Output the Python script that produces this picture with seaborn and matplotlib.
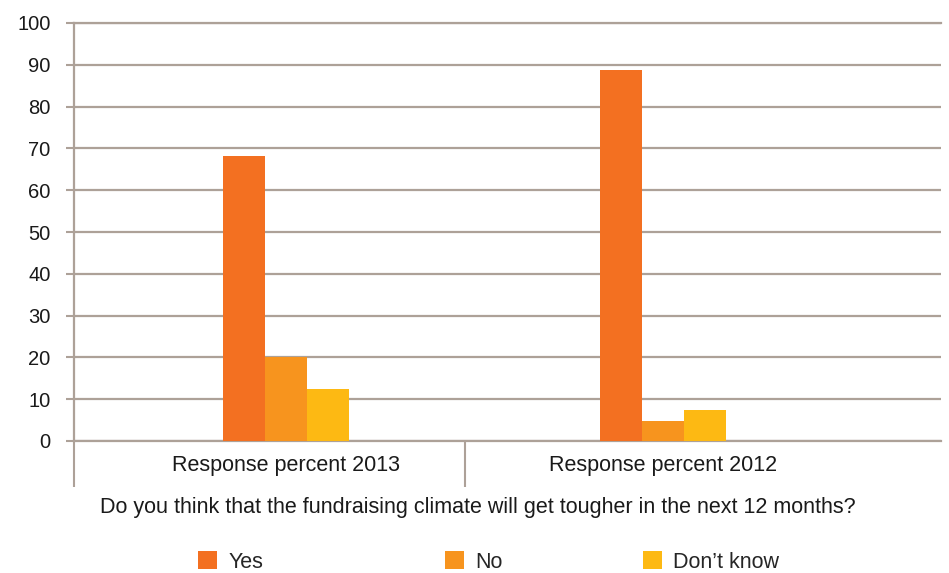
import matplotlib
matplotlib.use("Agg")
import matplotlib.pyplot as plt
import seaborn as sns
import pandas as pd

categories = ["Response percent 2013", "Response percent 2012"]
answers = ["Yes", "No", "Don\u2019t know"]
yes_vals = [68.2, 88.8]
no_vals = [20.1, 4.8]
dontknow_vals = [12.4, 7.4]
colors = ["#F37021", "#F7941E", "#FDB913"]
yticks = [0, 10, 20, 30, 40, 50, 60, 70, 80, 90, 100]
question = "Do you think that the fundraising climate will get tougher in the next 12 months?"

rows = []
for i, c in enumerate(categories):
    for a, vals in zip(answers, [yes_vals, no_vals, dontknow_vals]):
        rows.append({"category": c, "answer": a, "value": vals[i]})
df = pd.DataFrame(rows)

sns.set_theme(style="white")
plt.rcParams["font.family"] = ["Liberation Sans", "DejaVu Sans"]

grid_c = "#ADA198"
fs_y = 14.5
fs = 15.5

fig = plt.figure(figsize=(9.49, 5.73), dpi=100)
ax = fig.add_axes([74 / 949, 1 - 441 / 573, (941 - 74) / 949, (441 - 23) / 573])

sns.barplot(data=df, x="category", y="value", hue="answer", order=categories,
            hue_order=answers, palette=colors, width=0.333, saturation=1,
            linewidth=0, ax=ax, legend=True, zorder=3)

handles, labels = ax.get_legend_handles_labels()
ax.get_legend().remove()

ax.set_xlim(-0.562, 1.737)
ax.set_ylim(0, 100)
ax.set_yticks(yticks)
ax.set_yticklabels([str(v) for v in yticks], fontsize=fs_y, color="#1a1a1a")
ax.yaxis.grid(True, color=grid_c, linewidth=1.6, zorder=0)
ax.set_axisbelow(True)
ax.tick_params(axis="y", which="major", direction="out", length=5.8, width=1.5,
               color=grid_c, pad=11, left=True)

ax.set_xticks([0, 1])
ax.set_xticklabels(categories, fontsize=fs, color="#1a1a1a")
ax.tick_params(axis="x", which="major", length=0, pad=10)
ax.set_xticks([-0.562, 0.475], minor=True)
ax.tick_params(axis="x", which="minor", direction="out", length=33, width=1.5,
               color=grid_c, bottom=True)

ax.spines["right"].set_visible(False)
for s in ["left", "bottom", "top"]:
    ax.spines[s].set_color(grid_c)
    ax.spines[s].set_linewidth(1.6)

ax.set_xlabel("")
ax.set_ylabel("")

fig.text(0.504, 1 - 508 / 573, question, ha="center", va="center",
         fontsize=fs, color="#1a1a1a")

lx = [198 / 949, 445 / 949, 643 / 949]
for h, l, x in zip(handles, labels, lx):
    h.set_linewidth(0)
    fig.legend([h], [l], loc="center left", bbox_to_anchor=(x, 1 - 562 / 573),
               frameon=False, fontsize=fs, handlelength=0.9, handleheight=0.9,
               handletextpad=0.5, borderpad=0, borderaxespad=0)

fig.savefig("out.png", dpi=100)
